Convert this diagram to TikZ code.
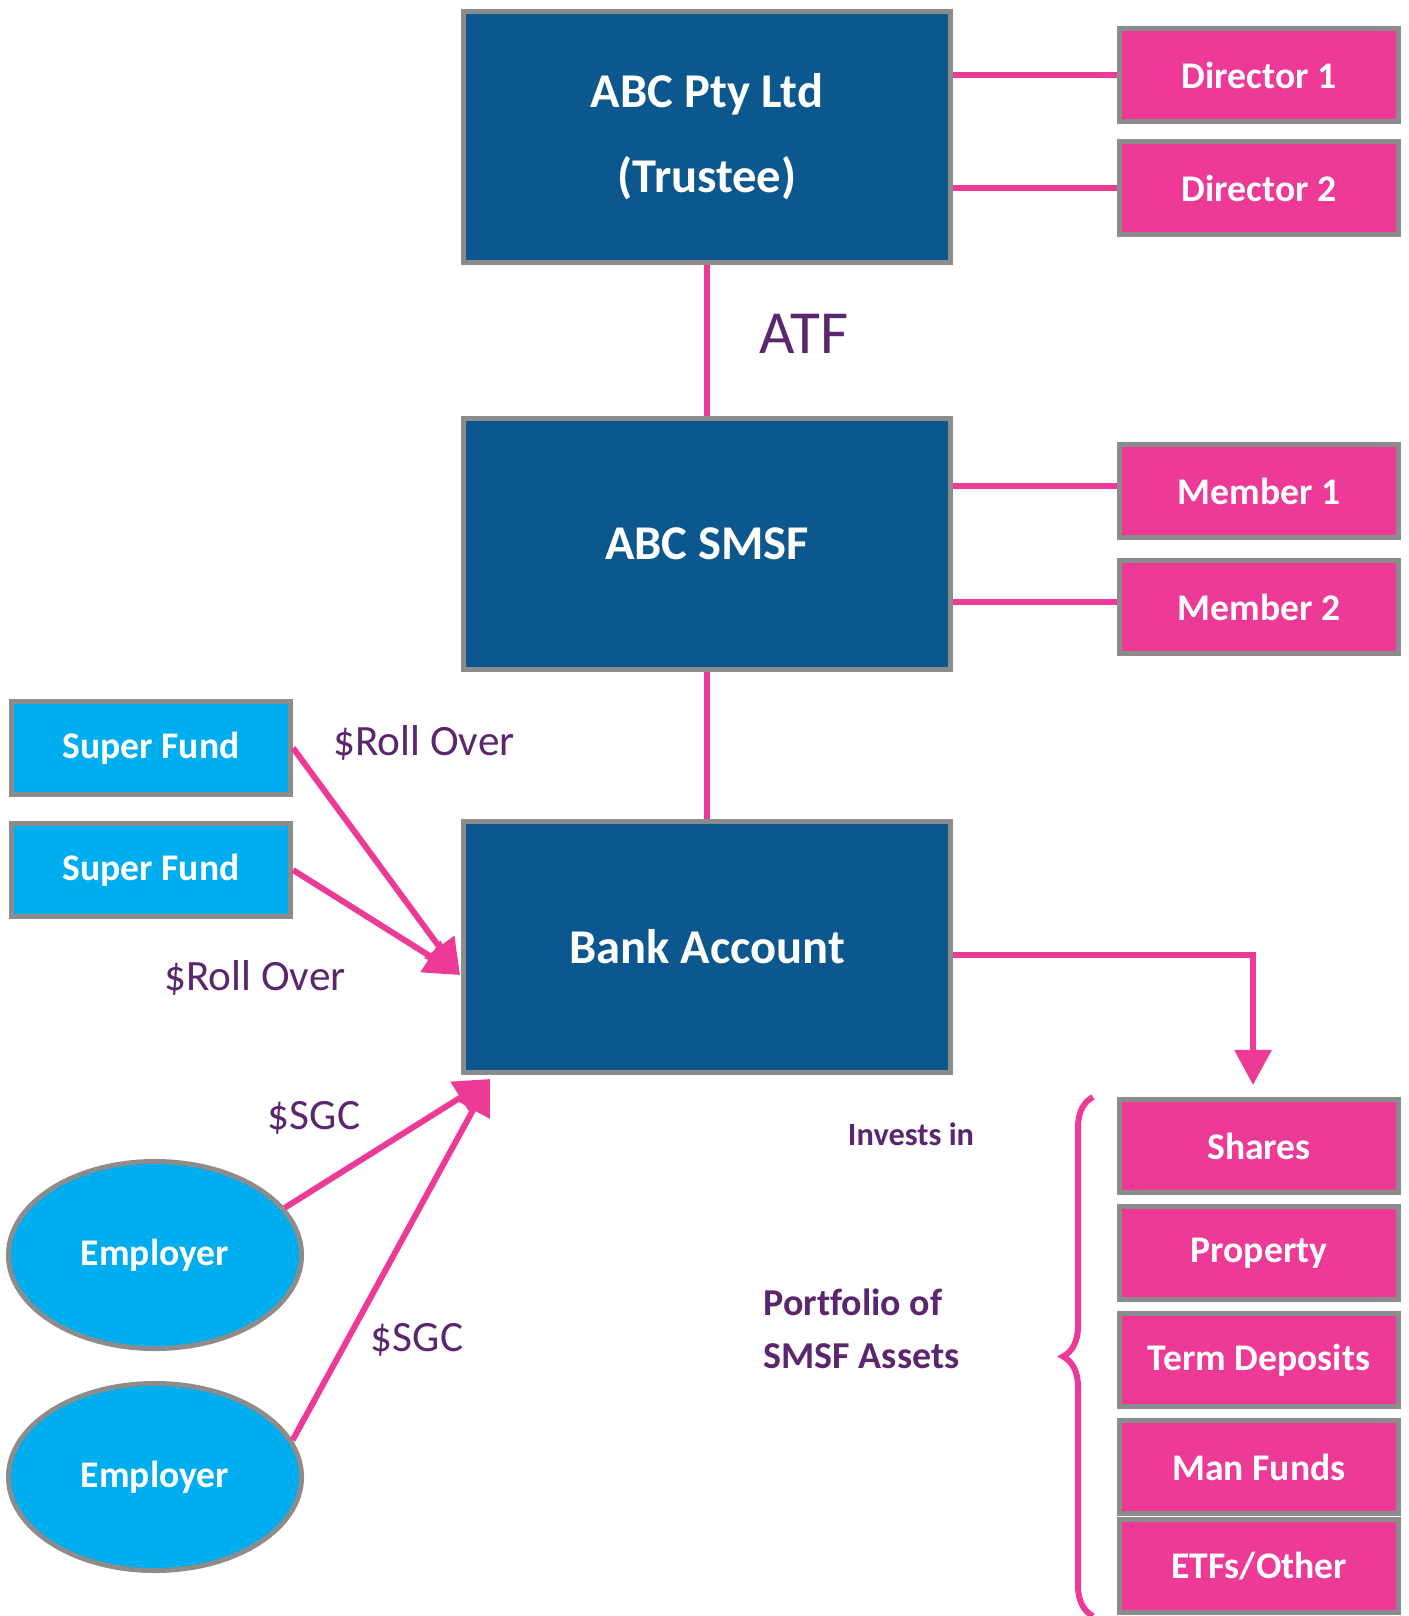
\documentclass[tikz,border=0pt]{standalone}
\usepackage{fontspec}
\setmainfont{Carlito}[Ligatures=CommonOff]
\usepackage{tikz}
\usetikzlibrary{arrows.meta,shapes.geometric,decorations.pathreplacing}
\definecolor{trustblue}{RGB}{12, 87, 142}
\definecolor{hotpink}{RGB}{236, 58, 150}
\definecolor{skyblue}{RGB}{0, 174, 239}
\definecolor{framegray}{RGB}{140, 140, 140}
\definecolor{plum}{RGB}{90, 38, 110}

\begin{document}
\begin{tikzpicture}[x=0.01cm, y=-0.01cm, >={Triangle[length=3.5mm,width=3.6mm]},
    bigbox/.style={draw=framegray, line width=1.4pt, fill=trustblue, text=white, inner sep=0pt,
        minimum width=4.87cm, minimum height=2.5cm, align=center, font=\fontsize{13.8}{24.2}\selectfont\bfseries},
    pinkbox/.style={draw=framegray, line width=1.4pt, fill=hotpink, text=white, inner sep=0pt,
        minimum width=2.79cm, minimum height=0.93cm, font=\fontsize{10.7}{13}\selectfont\bfseries},
    fundbox/.style={pinkbox, fill=skyblue},
    employer/.style={ellipse, draw=framegray, line width=1.4pt, fill=skyblue, text=white, inner sep=0pt,
        minimum width=2.93cm, minimum height=1.87cm, font=\fontsize{10.7}{13}\selectfont\bfseries},
    link/.style={draw=hotpink, line width=1.7pt},
    tag/.style={text=plum, font=\fontsize{12.3}{14}\selectfont}]

    \useasboundingbox (0,0) rectangle (1408,1616);

    % Trustee, fund and bank account
    \node[bigbox] (trustee) at (707,137) {ABC Pty Ltd\\(Trustee)};
    \node[bigbox] (smsf) at (707,544) {ABC SMSF};
    \node[bigbox] (bank) at (707,947) {Bank Account};

    % Directors and members
    \node[pinkbox] (dir1) at (1259,75) {Director 1};
    \node[pinkbox] (dir2) at (1259,188) {Director 2};
    \node[pinkbox] (mem1) at (1259,491) {Member 1};
    \node[pinkbox] (mem2) at (1259,607) {Member 2};

    \draw[link] (dir1.west) -- (dir1.west -| trustee.east);
    \draw[link] (dir2.west) -- (dir2.west -| trustee.east);
    \draw[link] ([yshift=0.05cm]mem1.west) -- ([yshift=0.05cm]mem1.west -| smsf.east);
    \draw[link] ([yshift=0.05cm]mem2.west) -- ([yshift=0.05cm]mem2.west -| smsf.east);

    \draw[link] (trustee.south) -- (smsf.north);
    \node[text=plum, font=\fontsize{17.4}{19}\selectfont] (atf) at (804,334) {ATF};
    \draw[link] (smsf.south) -- (bank.north);

    % Rollovers from other super funds
    \node[fundbox] (sf1) at (151,748) {Super Fund};
    \node[fundbox] (sf2) at (151,870) {Super Fund};
    \coordinate (rollin) at (460,975);
    \draw[link, ->] (sf1.east) -- (rollin);
    \draw[link, ->] (sf2.east) -- (rollin);
    \node[tag] (roll1) at (424,743) {\$Roll Over};
    \node[tag] (roll2) at (255,978) {\$Roll Over};

    % Employer contributions
    \node[employer] (emp1) at (155,1255) {Employer};
    \node[employer] (emp2) at (155,1477) {Employer};
    \coordinate (sgcin) at (490,1079);
    \draw[link, ->] (emp1.20) -- (sgcin);
    \draw[link, ->] (emp2.15) -- (sgcin);
    \node[tag] (sgc1) at (314,1118) {\$SGC};
    \node[tag] (sgc2) at (417,1340) {\$SGC};

    % Assets
    \node[pinkbox] (shares) at (1259,1146) {Shares};
    \node[pinkbox] (property) at (1259,1253) {Property};
    \node[pinkbox] (deposits) at (1259,1360) {Term Deposits};
    \node[pinkbox] (manfunds) at (1259,1467) {Man Funds};
    \node[pinkbox] (etfs) at (1259,1566) {ETFs/Other};

    \draw[link, ->, shorten >=0.12cm] ([yshift=-0.08cm]bank.east) -| ([xshift=-0.06cm]shares.north);

    \coordinate (bracetop) at (1093,1097);
    \coordinate (bracebot) at (1093,1616);
    \draw[link, decorate, decoration={brace, amplitude=0.3cm}] (bracebot) -- (bracetop);

    \node[text=plum, font=\fontsize{9.2}{11}\selectfont\bfseries] (invests) at (911,1134) {Invests in};
    \node[text=plum, anchor=west, align=left, inner sep=0pt, font=\fontsize{10.8}{15.2}\selectfont\bfseries] (portfolio) at (763,1329) {Portfolio of\\SMSF Assets};
\end{tikzpicture}
\end{document}
